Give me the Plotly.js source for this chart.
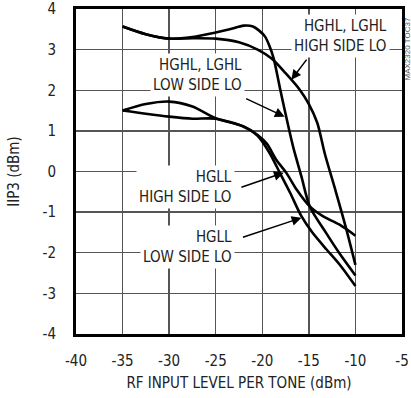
<!DOCTYPE html>
<html>
<head>
<meta charset="utf-8">
<script src="https://cdn.plot.ly/plotly-3.0.1.min.js"></script>
<style>html,body{margin:0;padding:0;background:#fff;}#chart{width:411px;height:398px;}</style>
</head>
<body>
<div id="chart"></div>
<script>
// HGHL, LGHL - HIGH SIDE LO
const hghlHighX = [-35, -32.5, -30, -27.5, -25, -22.5, -20.5, -19, -17.5, -16, -15, -14.1, -13.3, -12.1, -11, -10];
const hghlHighY = [3.57, 3.38, 3.27, 3.28, 3.27, 3.18, 3.0, 2.78, 2.42, 2.02, 1.66, 1.2, 0.45, -0.5, -1.4, -2.3];
// HGHL, LGHL - LOW SIDE LO
const hghlLowX = [-35, -32.5, -30, -27.5, -25, -23.5, -22, -21, -20.4, -19.7, -19.2, -18.8, -18.5, -18.1, -17.6, -16.7, -15.8, -14.9, -13.1, -11.7, -10];
const hghlLowY = [3.57, 3.38, 3.27, 3.31, 3.42, 3.5, 3.59, 3.57, 3.48, 3.32, 3.07, 2.8, 2.5, 2.05, 1.52, 0.62, -0.12, -0.86, -1.53, -2.02, -2.56];
// HGLL - HIGH SIDE LO
const hgllHighX = [-35, -32.5, -30, -27.5, -25, -22, -20.5, -19.5, -18.5, -17.4, -16.3, -14.9, -13.5, -11.7, -10];
const hgllHighY = [1.5, 1.66, 1.72, 1.6, 1.31, 1.11, 0.9, 0.68, 0.29, -0.04, -0.45, -0.86, -1.1, -1.31, -1.58];
// HGLL - LOW SIDE LO
const hgllLowX = [-35, -32.5, -30, -27.5, -25, -22, -20.5, -19.2, -18.1, -17, -15.8, -14.6, -13.1, -11.7, -10];
const hgllLowY = [1.5, 1.42, 1.35, 1.3, 1.3, 1.1, 0.88, 0.45, -0.04, -0.53, -1.1, -1.51, -1.92, -2.29, -2.82];

const xTicks = [-40, -35, -30, -25, -20, -15, -10, -5];
const yTicks = [-4, -3, -2, -1, 0, 1, 2, 3, 4];

const FONT = '"DejaVu Sans Condensed", "Liberation Sans Narrow", sans-serif';
const TXT = '#222';
const FS = 15;

function curve(x, y, name) {
  return {x: x, y: y, name: name, type: 'scatter', mode: 'lines',
    line: {color: '#000', width: 2.6, shape: 'spline', smoothing: 0.8},
    hoverinfo: 'skip'};
}

const data = [
  curve(hghlHighX, hghlHighY, 'HGHL, LGHL HIGH SIDE LO'),
  curve(hghlLowX, hghlLowY, 'HGHL, LGHL LOW SIDE LO'),
  curve(hgllHighX, hgllHighY, 'HGLL HIGH SIDE LO'),
  curve(hgllLowX, hgllLowY, 'HGLL LOW SIDE LO')
];

function label(text, x, y) {
  return {text: text, x: x, y: y, xref: 'x', yref: 'y', xanchor: 'right', yanchor: 'middle',
    align: 'right', showarrow: false, bgcolor: '#fff', borderpad: 2,
    font: {family: FONT, size: FS, color: TXT}};
}
function arrow(x, y, ax, ay) {
  return {text: '', x: x, y: y, ax: ax, ay: ay, xref: 'x', yref: 'y', axref: 'x', ayref: 'y',
    showarrow: true, arrowhead: 2, arrowsize: 1.3, arrowwidth: 1.5, arrowcolor: '#000', standoff: 0, startstandoff: 0};
}

const layout = {
  width: 411, height: 398,
  margin: {l: 76, r: 9, t: 9, b: 64},
  paper_bgcolor: '#fff', plot_bgcolor: '#fff',
  showlegend: false,
  font: {family: FONT, size: FS, color: TXT},
  xaxis: {
    range: [-40, -5], tickvals: xTicks, ticktext: xTicks.map(String),
    showgrid: true, gridcolor: '#555', gridwidth: 1.3,
    showline: true, linecolor: '#000', linewidth: 3, mirror: true,
    ticks: '', ticklabelstandoff: 11, ticklabeloverflow: 'allow', zeroline: false,
    tickfont: {family: FONT, size: FS, color: TXT},
    title: {text: 'RF INPUT LEVEL PER TONE (dBm)', font: {family: FONT, size: FS, color: TXT}, standoff: 9}
  },
  yaxis: {
    range: [-4, 4], tickvals: yTicks, ticktext: yTicks.map(String),
    showgrid: true, gridcolor: '#555', gridwidth: 1.3,
    showline: true, linecolor: '#000', linewidth: 3, mirror: true,
    ticks: '', ticklabelstandoff: 14, ticklabeloverflow: 'allow', zeroline: false,
    tickfont: {family: FONT, size: FS, color: TXT},
    title: {text: 'IIP3 (dBm)', font: {family: FONT, size: FS, color: TXT}, standoff: 20}
  },
  annotations: [
    label('HGHL, LGHL<br>HIGH SIDE LO', -6.3, 3.33),
    label('HGHL, LGHL<br>LOW SIDE LO', -21.85, 2.38),
    label('HGLL<br>HIGH SIDE LO', -22.9, -0.39),
    label('HGLL<br>LOW SIDE LO', -22.9, -1.87),
    arrow(-16.88, 2.26, -15.12, 2.79),
    arrow(-17.6, 1.35, -21.9, 1.81),
    arrow(-17.7, -0.03, -22.4, -0.4),
    arrow(-15.8, -1.14, -22.24, -1.63),
    {text: 'MAX2320 TOC37', xref: 'paper', yref: 'paper', x: 1.017, y: 0.877,
      xanchor: 'center', yanchor: 'middle', textangle: -90, showarrow: false,
      font: {family: '"Liberation Sans", sans-serif', size: 8, color: '#555'}}
  ]
};

Plotly.newPlot('chart', data, layout, {displayModeBar: false, staticPlot: true});
</script>
</body>
</html>
